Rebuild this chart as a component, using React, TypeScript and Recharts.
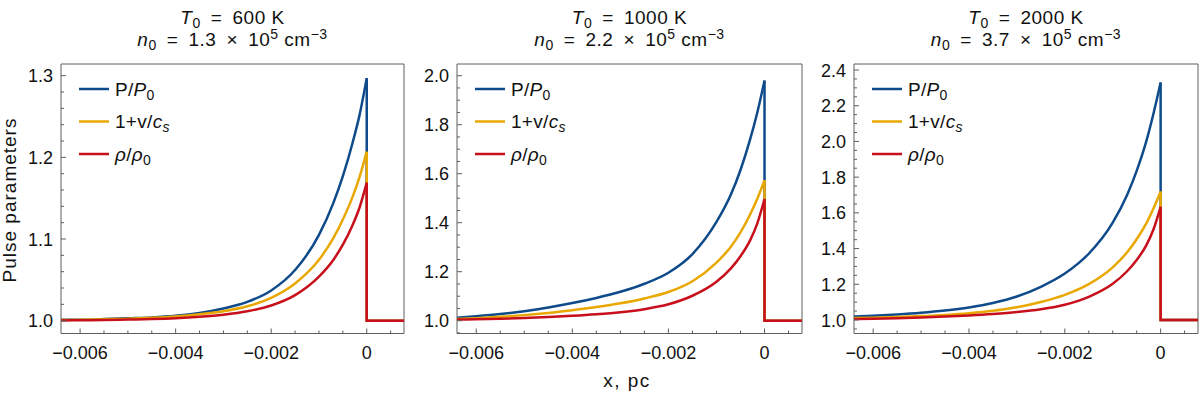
import React from 'react';
import { LineChart, Line, XAxis, YAxis, ReferenceArea } from 'recharts';

// sample positions (pc) up to the shock front at x = 0
const xs = [-0.0064, -0.006, -0.0055, -0.005, -0.0045, -0.004, -0.0035, -0.003, -0.0025, -0.002, -0.0015, -0.001, -0.0007, -0.0005, -0.0003, -0.00015, 0];
// after the front everything drops back to ambient
const xAfterShock = [0, 0.0008];
const ambient = 1.0;

// T0 = 600 K
const p600 = [1.001, 1.001, 1.002, 1.003, 1.004, 1.006, 1.0095, 1.015, 1.023, 1.037, 1.062, 1.105, 1.144, 1.177, 1.217, 1.252, 1.297];
const u600 = [1.0008, 1.001, 1.0017, 1.0023, 1.0035, 1.0052, 1.0079, 1.0116, 1.0176, 1.028, 1.0455, 1.0745, 1.101, 1.124, 1.151, 1.176, 1.207];
const r600 = [1.0003, 1.0005, 1.0008, 1.0014, 1.002, 1.003, 1.0047, 1.0073, 1.0115, 1.0186, 1.0313, 1.054, 1.0744, 1.093, 1.1166, 1.1386, 1.169];

// T0 = 1000 K
const p1000 = [1.012, 1.018, 1.027, 1.039, 1.054, 1.072, 1.093, 1.118, 1.151, 1.196, 1.272, 1.403, 1.515, 1.615, 1.74, 1.85, 1.98];
const u1000 = [1.007, 1.0105, 1.0158, 1.0228, 1.0316, 1.0428, 1.0556, 1.0709, 1.0908, 1.1171, 1.1611, 1.2372, 1.3016, 1.3602, 1.4334, 1.4978, 1.574];
const r1000 = [1.0045, 1.006, 1.008, 1.0109, 1.0149, 1.0199, 1.0263, 1.0348, 1.0472, 1.0671, 1.1019, 1.159, 1.2137, 1.2634, 1.328, 1.3976, 1.497];

// T0 = 2000 K
const p2000 = [1.02, 1.0244, 1.0313, 1.0404, 1.053, 1.0705, 1.0954, 1.1317, 1.186, 1.26, 1.371, 1.545, 1.7, 1.835, 2.0, 2.155, 2.33];
const u2000 = [1.0108, 1.0132, 1.0169, 1.0219, 1.0287, 1.0382, 1.0516, 1.0713, 1.1007, 1.1408, 1.2009, 1.295, 1.379, 1.452, 1.541, 1.625, 1.72];
const r2000 = [1.0057, 1.0076, 1.0101, 1.0139, 1.019, 1.0254, 1.0336, 1.0444, 1.0602, 1.0856, 1.13, 1.203, 1.273, 1.336, 1.418, 1.507, 1.634];

const temps = ['600', '1000', '2000'];
const densities = ['1.3', '2.2', '3.7'];

const xMajor = [-0.006, -0.004, -0.002, 0];
const yMajor600 = [1.0, 1.1, 1.2, 1.3];
const yMajor1000 = [1.0, 1.2, 1.4, 1.6, 1.8, 2.0];
const yMajor2000 = [1.0, 1.2, 1.4, 1.6, 1.8, 2.0, 2.2, 2.4];

const FONT = '"Liberation Sans", Arial, sans-serif';
const FRAME = '#5e5e5e';
const INK = '#111';
const COLORS: Record<string, string> = { p: '#0f4a8a', u: '#e9a800', r: '#c8101c' };
const KEYS = ['p', 'u', 'r'];

const X_DOMAIN: [number, number] = [-0.0064, 0.00078];
const PLOT_LEFT = [61, 457, 854];
const PLOT_WIDTH = [343, 345, 344];
const PLOT_TOP = 64;
const PLOT_BOTTOM = 333.5;
const Y_AXIS_W = 60;
const X_AXIS_H = 30;

function range(a: number, b: number, step: number) {
  const out: number[] = [];
  for (let v = a; v <= b + 1e-9; v += step) out.push(+v.toFixed(6));
  return out;
}

function curveRows(p: number[], u: number[], r: number[]) {
  return xs.map((x, i) => ({ x, p: p[i], u: u[i], r: r[i] }));
}

function shockRows(p: number[], u: number[], r: number[]) {
  const last = xs.length - 1;
  const rows = [{ x: 0, p: p[last], u: u[last], r: r[last] }];
  xAfterShock.forEach((x) => rows.push({ x, p: ambient, u: ambient, r: ambient }));
  return rows;
}

const panels = [
  { curve: curveRows(p600, u600, r600), shock: shockRows(p600, u600, r600), yMajor: yMajor600, minor: 0.02, yDomain: [0.9843, 1.3143] as [number, number] },
  { curve: curveRows(p1000, u1000, r1000), shock: shockRows(p1000, u1000, r1000), yMajor: yMajor1000, minor: 0.05, yDomain: [0.9478, 2.0478] as [number, number] },
  { curve: curveRows(p2000, u2000, r2000), shock: shockRows(p2000, u2000, r2000), yMajor: yMajor2000, minor: 0.05, yDomain: [0.9244, 2.4336] as [number, number] },
];

const isIn = (list: number[], v: number) => list.some((m) => Math.abs(m - v) < 1e-9);

const XTick = (props: any) => {
  const { x, y, payload } = props;
  const v = payload.value;
  const major = isIn(xMajor, v);
  return (
    <g>
      <line x1={x} x2={x} y1={y} y2={y - (major ? 5 : 3)} stroke={FRAME} strokeWidth={1} />
      {major && (
        <text x={x} y={y + 25.5} textAnchor="middle" fontSize={18} fontFamily={FONT} fill={INK}>
          {v === 0 ? '0' : '\u2212' + Math.abs(v).toFixed(3)}
        </text>
      )}
    </g>
  );
};

const makeYTick = (major: number[]) => (props: any) => {
  const { x, y, payload } = props;
  const v = payload.value;
  const isMajor = isIn(major, v);
  return (
    <g>
      <line x1={x} x2={x + (isMajor ? 5 : 3)} y1={y} y2={y} stroke={FRAME} strokeWidth={1} />
      {isMajor && (
        <text x={x - 8} y={y + 6.5} textAnchor="end" fontSize={18} fontFamily={FONT} fill={INK}>
          {v.toFixed(1)}
        </text>
      )}
    </g>
  );
};

function Panel({ i }: { i: number }) {
  const pn = panels[i];
  const xTicks = range(-0.006, 0.0005, 0.0005);
  const yTicks = range(Math.ceil(pn.yDomain[0] / pn.minor) * pn.minor, pn.yDomain[1], pn.minor);
  const width = Y_AXIS_W + PLOT_WIDTH[i] + 4;
  return (
    <div style={{ position: 'absolute', left: PLOT_LEFT[i] - Y_AXIS_W, top: 0 }}>
      <LineChart
        width={width}
        height={398}
        margin={{ top: PLOT_TOP, right: 4, left: 0, bottom: 398 - PLOT_BOTTOM - X_AXIS_H }}
      >
        <XAxis
          dataKey="x"
          type="number"
          domain={X_DOMAIN}
          allowDataOverflow
          ticks={xTicks}
          interval={0}
          tickSize={0}
          tickMargin={0}
          axisLine={false}
          height={X_AXIS_H}
          tick={XTick}
        />
        <YAxis
          type="number"
          domain={pn.yDomain}
          allowDataOverflow
          ticks={yTicks}
          interval={0}
          tickSize={0}
          tickMargin={0}
          axisLine={false}
          width={Y_AXIS_W}
          tick={makeYTick(pn.yMajor)}
        />
        {KEYS.map((k) => [
          <Line key={k + 'c'} data={pn.curve} type="monotone" dataKey={k} stroke={COLORS[k]} strokeWidth={2.5} dot={false} isAnimationActive={false} />,
          <Line key={k + 's'} data={pn.shock} type="linear" dataKey={k} stroke={COLORS[k]} strokeWidth={2.5} dot={false} isAnimationActive={false} />,
        ])}
        <ReferenceArea
          x1={X_DOMAIN[0]}
          x2={X_DOMAIN[1]}
          y1={pn.yDomain[0]}
          y2={pn.yDomain[1]}
          fill="none"
          fillOpacity={0}
          stroke={FRAME}
          strokeWidth={1}
        />
      </LineChart>
    </div>
  );
}

const legendRows = [
  {
    key: 'p',
    label: (
      <>
        <tspan>P/</tspan>
        <tspan fontStyle="italic">P</tspan>
        <tspan fontSize={14} dy={4}>0</tspan>
      </>
    ),
  },
  {
    key: 'u',
    label: (
      <>
        <tspan>1+v/</tspan>
        <tspan fontStyle="italic">c</tspan>
        <tspan fontSize={14} dy={4} fontStyle="italic">s</tspan>
      </>
    ),
  },
  {
    key: 'r',
    label: (
      <>
        <tspan fontStyle="italic">ρ</tspan>
        <tspan>/</tspan>
        <tspan fontStyle="italic">ρ</tspan>
        <tspan fontSize={14} dy={4}>0</tspan>
      </>
    ),
  },
];
const LEGEND_Y = [89, 121.5, 154];

function Overlay() {
  const sp = '\u00a0\u2009';
  return (
    <svg width={1200} height={398} style={{ position: 'absolute', left: 0, top: 0, pointerEvents: 'none' }} fontFamily={FONT}>
      {PLOT_LEFT.map((left, i) => {
        const cx = left + PLOT_WIDTH[i] / 2;
        return (
          <g key={i}>
            <text x={cx} y={23.5} textAnchor="middle" fontSize={19} fill={INK} letterSpacing={0.5}>
              <tspan fontStyle="italic">T</tspan>
              <tspan fontSize={14} dy={4}>0</tspan>
              <tspan dy={-4}>{sp + '=' + sp + temps[i] + '\u00a0K'}</tspan>
            </text>
            <text x={cx} y={45.5} textAnchor="middle" fontSize={19} fill={INK} letterSpacing={0.5}>
              <tspan fontStyle="italic">n</tspan>
              <tspan fontSize={14} dy={4}>0</tspan>
              <tspan dy={-4}>{sp + '=' + sp + densities[i] + sp + '\u00d7' + sp + '10'}</tspan>
              <tspan fontSize={14} dy={-7}>5</tspan>
              <tspan dy={7}>{'\u00a0cm'}</tspan>
              <tspan fontSize={14} dy={-7}>{'\u22123'}</tspan>
            </text>
            {legendRows.map((row, k) => (
              <g key={k}>
                <line x1={left + 18} x2={left + 48} y1={LEGEND_Y[k]} y2={LEGEND_Y[k]} stroke={COLORS[row.key]} strokeWidth={2.5} />
                <text x={left + 54} y={LEGEND_Y[k] + 6.5} fontSize={19} fill={INK} letterSpacing={0.3}>
                  {row.label}
                </text>
              </g>
            ))}
          </g>
        );
      })}
      <text transform="translate(16,200) rotate(-90)" textAnchor="middle" fontSize={19} fill={INK} letterSpacing={1}>
        Pulse parameters
      </text>
      <text x={627} y={387} textAnchor="middle" fontSize={19} fill={INK} letterSpacing={1.5}>
        x, pc
      </text>
    </svg>
  );
}

export default function App() {
  return (
    <div style={{ position: 'absolute', left: 0, top: 0, width: 1200, height: 398, overflow: 'hidden', background: '#fff', fontFamily: FONT }}>
      {[0, 1, 2].map((i) => (
        <Panel key={i} i={i} />
      ))}
      <Overlay />
    </div>
  );
}
